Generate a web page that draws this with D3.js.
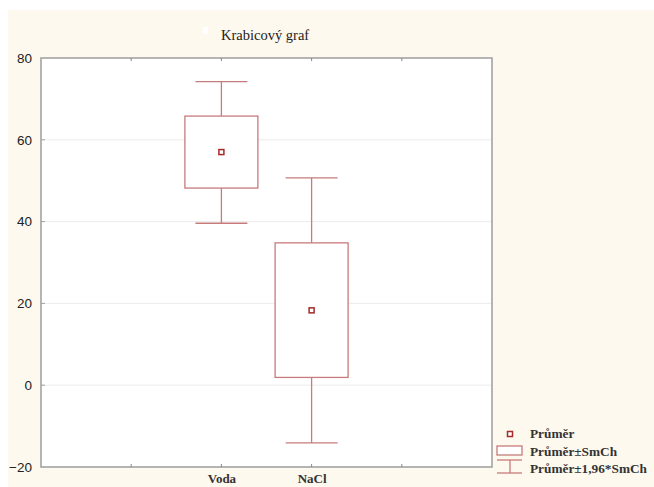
<!DOCTYPE html>
<html>
<head>
<meta charset="utf-8">
<script src="https://cdn.jsdelivr.net/npm/d3@7"></script>
<style>
html,body{margin:0;padding:0;background:#fff;}
svg{display:block;}
</style>
</head>
<body>
<svg id="chart" width="654" height="487"></svg>
<script>
// Data
const slots = ["_l", "Voda", "NaCl", "_r"];
const categories = ["Voda", "NaCl"];
const means = [57.0, 18.3];
const boxLow = [48.2, 1.9];
const boxHigh = [65.8, 34.8];
const whiskerLow = [39.6, -14.1];
const whiskerHigh = [74.2, 50.7];
const yTicks = [-20, 0, 20, 40, 60, 80];
const title = "Krabicový graf";
const legendLabels = ["Průměr", "Průměr±SmCh", "Průměr±1,96*SmCh"];

const svg = d3.select("#chart");
const boxColor = "#c77b7b";
const meanColor = "#a52a2a";

// background
svg.append("rect").attr("x", 8).attr("y", 10).attr("width", 646).attr("height", 477).attr("fill", "#fef9ee");

const L = 41, R = 492, T = 58, B = 467;
const x = d3.scalePoint().domain(slots).range([L, R]).padding(1);
const y = d3.scaleLinear().domain([-20, 80]).range([B, T]);

// plot area
svg.append("rect").attr("x", L).attr("y", T).attr("width", R - L).attr("height", B - T).attr("fill", "#fff");

// grid
svg.append("g").selectAll("line").data(yTicks.filter(d => d > -20 && d < 80)).join("line")
  .attr("x1", L).attr("x2", R).attr("y1", d => y(d)).attr("y2", d => y(d))
  .attr("stroke", "#ececec").attr("stroke-width", 1);

// frame
svg.append("rect").attr("x", L).attr("y", T).attr("width", R - L).attr("height", B - T)
  .attr("fill", "none").attr("stroke", "#a3a3a3").attr("stroke-width", 1.6);

// y axis
const yAxis = d3.axisLeft(y).tickValues(yTicks).tickSize(0).tickPadding(9);
const gy = svg.append("g").attr("transform", `translate(${L},0)`).call(yAxis);
gy.select(".domain").remove();
gy.selectAll("text").attr("font-family", "'Liberation Sans', Arial, sans-serif").attr("font-size", 13.5).attr("fill", "#222");
// inner tick marks on left
svg.append("g").selectAll("line").data(yTicks.filter(d => d > -20 && d < 80)).join("line")
  .attr("x1", L).attr("x2", L + 4).attr("y1", d => y(d)).attr("y2", d => y(d))
  .attr("stroke", "#a3a3a3").attr("stroke-width", 1);

// x axis ticks (top and bottom, inner)
const xt = slots.map(s => x(s));
svg.append("g").selectAll("line").data(xt).join("line")
  .attr("x1", d => d).attr("x2", d => d).attr("y1", B).attr("y2", B - 3)
  .attr("stroke", "#888").attr("stroke-width", 1);
svg.append("g").selectAll("line").data(xt).join("line")
  .attr("x1", d => d).attr("x2", d => d).attr("y1", T).attr("y2", T + 3)
  .attr("stroke", "#888").attr("stroke-width", 1);

const xAxis = d3.axisBottom(x).tickValues(categories).tickSize(0).tickPadding(7);
const gx = svg.append("g").attr("transform", `translate(0,${B})`).call(xAxis);
gx.select(".domain").remove();
gx.selectAll("text").attr("font-family", "'Liberation Serif', 'Times New Roman', serif")
  .attr("font-size", 13).attr("font-weight", "bold").attr("fill", "#333");

// boxes
const bw = 73, capW = 52;
const g = svg.append("g");
categories.forEach((c, i) => {
  const cx = x(c);
  g.append("line").attr("x1", cx).attr("x2", cx).attr("y1", y(whiskerHigh[i])).attr("y2", y(boxHigh[i]))
    .attr("stroke", boxColor).attr("stroke-width", 1.3);
  g.append("line").attr("x1", cx).attr("x2", cx).attr("y1", y(boxLow[i])).attr("y2", y(whiskerLow[i]))
    .attr("stroke", boxColor).attr("stroke-width", 1.3);
  g.append("line").attr("x1", cx - capW / 2).attr("x2", cx + capW / 2).attr("y1", y(whiskerHigh[i])).attr("y2", y(whiskerHigh[i]))
    .attr("stroke", boxColor).attr("stroke-width", 1.3);
  g.append("line").attr("x1", cx - capW / 2).attr("x2", cx + capW / 2).attr("y1", y(whiskerLow[i])).attr("y2", y(whiskerLow[i]))
    .attr("stroke", boxColor).attr("stroke-width", 1.3);
  g.append("rect").attr("x", cx - bw / 2).attr("y", y(boxHigh[i])).attr("width", bw).attr("height", y(boxLow[i]) - y(boxHigh[i]))
    .attr("fill", "#fff").attr("stroke", boxColor).attr("stroke-width", 1.3);
  g.append("rect").attr("x", cx - 2.5).attr("y", y(means[i]) - 2.5).attr("width", 5).attr("height", 5)
    .attr("fill", "#fff").attr("stroke", meanColor).attr("stroke-width", 1.5);
});

// title
svg.append("rect").attr("x", 203).attr("y", 27).attr("width", 5).attr("height", 7).attr("fill", "#fff");
svg.append("text").attr("x", 221).attr("y", 40).text(title)
  .attr("font-family", "'Liberation Serif', 'Times New Roman', serif").attr("font-size", 14.5).attr("fill", "#222");

// legend
const lg = svg.append("g");
const lx = 510;
lg.append("rect").attr("x", lx - 2.5).attr("y", 431.5).attr("width", 5).attr("height", 5)
  .attr("fill", "#fff").attr("stroke", meanColor).attr("stroke-width", 1.5);
lg.append("rect").attr("x", 497).attr("y", 446).attr("width", 25).attr("height", 9)
  .attr("fill", "#fff").attr("stroke", boxColor).attr("stroke-width", 1.3);
lg.append("line").attr("x1", 497).attr("x2", 522).attr("y1", 460).attr("y2", 460).attr("stroke", boxColor).attr("stroke-width", 1.3);
lg.append("line").attr("x1", lx).attr("x2", lx).attr("y1", 460).attr("y2", 473).attr("stroke", boxColor).attr("stroke-width", 1.3);
lg.append("line").attr("x1", 497).attr("x2", 522).attr("y1", 473).attr("y2", 473).attr("stroke", boxColor).attr("stroke-width", 1.3);
lg.selectAll("text").data(legendLabels).join("text")
  .attr("x", 530).attr("y", (d, i) => [438, 456, 473][i]).text(d => d)
  .attr("font-family", "'Liberation Serif', 'Times New Roman', serif").attr("font-size", 13.3)
  .attr("font-weight", "bold").attr("fill", "#333");
</script>
</body>
</html>
